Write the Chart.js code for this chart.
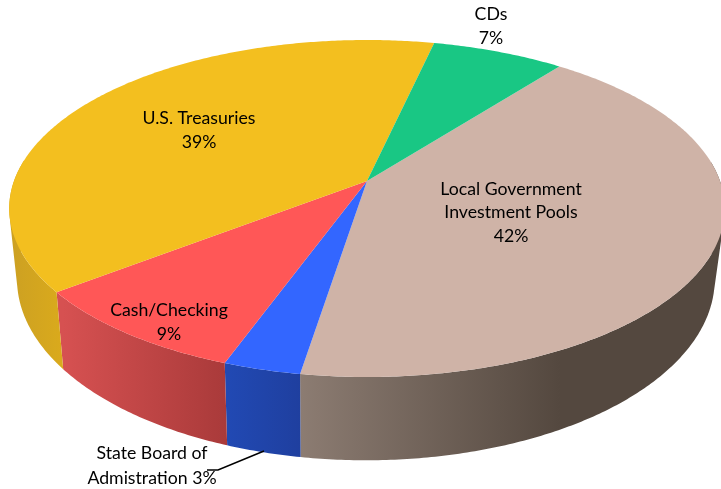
<!DOCTYPE html>
<html>
<head>
<meta charset="utf-8">
<style>
  html, body { margin: 0; padding: 0; background: #fff; }
  canvas { display: block; }
</style>
<script src="https://cdn.jsdelivr.net/npm/chart.js@4"></script>
</head>
<body>
<canvas id="pie" width="721" height="489"></canvas>
<script>
const categories = ['Local Government Investment Pools', 'State Board of Admistration', 'Cash/Checking', 'U.S. Treasuries', 'CDs'];
const shares = [42, 3, 9, 39, 7];
const topColors = ['#CFB3A7', '#3366FF', '#FF5757', '#F3BF1F', '#19C784'];
// side wall gradient: [colour at left, colour at right, x from, x to]
const sideColors = [
  ['#8C7C72', '#54483F', 300, 560],
  ['#2149B3', '#1F3F9F', 228, 301],
  ['#D65151', '#A93A3A', 63, 228],
  ['#CDA122', '#DAAA1C', 13, 63],
  ['#19C784', '#19C784', 433, 557]
];
const labelLines = [
  ['Local Government', 'Investment Pools', '42%'],
  ['State Board of', 'Admistration 3%'],
  ['Cash/Checking', '9%'],
  ['U.S. Treasuries', '39%'],
  ['CDs', '7%']
];
const labelSpots = [[511, 189, 23.5], [152, 453.5, 25], [169, 310.5, 23.5], [199, 118.5, 24], [491, 14.5, 24]];

// perspective of the tilted disc, a unit circle maps to the top face
const apexX = 367, apexY = 181, spanX = 353, spanY = 164, tilt = -0.1632;

function topPoint(a) {
  const u = Math.cos(a), v = Math.sin(a), w = 1 + tilt * v;
  return [apexX + spanX * u / w, apexY + spanY * v / w];
}

function bottomPoint(a) {
  const p = topPoint(a);
  return [322 + (p[0] - 322) * 0.975, p[1] * 1.075 + 55];
}

function arcPoints(el, fn) {
  const pts = [];
  const steps = Math.ceil((el.endAngle - el.startAngle) / 0.01);
  for (let i = 0; i <= steps; i++) {
    pts.push(fn(el.startAngle + (el.endAngle - el.startAngle) * i / steps));
  }
  return pts;
}

function addQuad(ctx, q) {
  // same winding for all, otherwise overlapping quads cancel out at the tips
  let area = 0;
  q.forEach((p, i) => {
    const n = q[(i + 1) % 4];
    area += p[0] * n[1] - n[0] * p[1];
  });
  const pts = area < 0 ? q.slice().reverse() : q;
  pts.forEach((p, i) => i ? ctx.lineTo(p[0], p[1]) : ctx.moveTo(p[0], p[1]));
  ctx.closePath();
}

const tiltedPie = {
  id: 'tiltedPie',
  beforeDatasetsDraw(chart) {
    const ctx = chart.ctx;
    const arcs = chart.getDatasetMeta(0).data;

    // walls first, the top face covers whatever faces away
    arcs.forEach((el, i) => {
      const s = sideColors[i];
      const grad = ctx.createLinearGradient(s[2], 0, s[3], 0);
      grad.addColorStop(0, s[0]);
      grad.addColorStop(1, s[1]);
      const upper = arcPoints(el, topPoint);
      const lower = arcPoints(el, bottomPoint);
      ctx.beginPath();
      for (let k = 0; k < upper.length - 1; k++) {
        if (upper[k][1] < apexY - 20) continue; // back of the disc, hidden anyway
        addQuad(ctx, [upper[k], upper[k + 1], lower[k + 1], lower[k]]);
      }
      ctx.fillStyle = grad;
      ctx.fill();
    });

    arcs.forEach(el => {
      ctx.beginPath();
      ctx.moveTo(apexX, apexY);
      arcPoints(el, topPoint).forEach(p => ctx.lineTo(p[0], p[1]));
      ctx.closePath();
      ctx.fillStyle = el.options.backgroundColor;
      ctx.fill();
    });
    return false;
  },
  afterDraw(chart) {
    const ctx = chart.ctx;
    // leader line of the small slice
    ctx.strokeStyle = '#000';
    ctx.lineWidth = 1.5;
    ctx.beginPath();
    ctx.moveTo(264, 451);
    ctx.lineTo(218, 470);
    ctx.lineTo(207, 470);
    ctx.stroke();

    ctx.fillStyle = '#000';
    ctx.font = '17.7px Lato, "Open Sans", sans-serif';
    ctx.textAlign = 'center';
    ctx.textBaseline = 'middle';
    labelLines.forEach((lines, i) => {
      const spot = labelSpots[i];
      lines.forEach((line, k) => ctx.fillText(line, spot[0], spot[1] + k * spot[2]));
    });
  }
};

new Chart(document.getElementById('pie'), {
  type: 'pie',
  data: {
    labels: categories,
    datasets: [{ data: shares, backgroundColor: topColors, borderWidth: 0 }]
  },
  options: {
    responsive: false,
    animation: false,
    rotation: 37.95,
    plugins: { legend: { display: false }, tooltip: { enabled: false } }
  },
  plugins: [tiltedPie]
});
</script>
</body>
</html>
